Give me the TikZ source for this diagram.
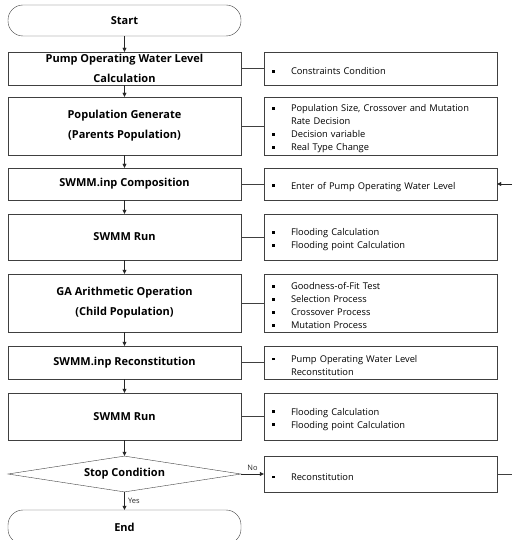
\documentclass[tikz,border=0pt]{standalone}
\usepackage{fontspec}
\setmainfont{Open Sans}
\usetikzlibrary{shapes.geometric,arrows.meta}

\tikzset{
    procbox/.style={draw=black!75, minimum width=233pt, inner sep=0pt,
        align=center, font=\fontsize{11}{20}\selectfont\bfseries},
    notebox/.style={draw=black!75, minimum width=233pt, inner xsep=8pt, inner ysep=0pt,
        text width=217pt, align=left, font=\fontsize{9.3}{13}\selectfont},
    termbox/.style={procbox, rounded corners=15pt},
    flow/.style={-{Triangle[length=4pt,width=4pt]}, black!85},
    link/.style={black!75}
}
\newcommand\nitem[1]{\par\noindent\makebox[19pt][l]{\rule[2.3pt]{2.6pt}{2.6pt}}#1}
\newcommand\ncont[1]{\par\noindent\hspace*{19pt}#1}

\begin{document}
\begin{tikzpicture}[x=1pt,y=-1pt]
    \useasboundingbox (0,0) rectangle (512,540);

    % Main flow
    \node [termbox, minimum height=31pt] (start) at (124.5,20.5) {Start};
    \node [procbox, minimum height=33pt] (wlcalc) at (124.5,68.5)
        {Pump Operating Water Level\\Calculation};
    \node [procbox, minimum height=58pt] (popgen) at (124.5,126)
        {Population Generate\\(Parents Population)};
    \node [procbox, minimum height=32pt] (inpcomp) at (124.5,184)
        {SWMM.inp Composition};
    \node [procbox, minimum height=46pt] (runA) at (124.5,237)
        {SWMM Run};
    \node [procbox, minimum height=58pt] (gaop) at (124.5,303)
        {GA Arithmetic Operation\\(Child Population)};
    \node [procbox, minimum height=33pt] (inprecon) at (124.5,362.5)
        {SWMM.inp Reconstitution};
    \node [procbox, minimum height=47pt] (runB) at (124.5,416.5)
        {SWMM Run};
    \node [diamond, draw=black!75, inner sep=0pt, aspect=6.5,
        minimum width=233pt, minimum height=36pt,
        font=\fontsize{11}{12}\selectfont\bfseries] (stop) at (124.5,474) {Stop Condition};
    \node [termbox, minimum height=34pt] (finish) at (124.5,527) {End};

    % Notes
    \node [notebox, minimum height=33pt] (nconst) at (380.5,68.5)
        {\nitem{Constraints Condition}};
    \node [notebox, minimum height=58pt] (npop) at (380.5,126)
        {\nitem{Population Size, Crossover and Mutation}
         \ncont{Rate Decision}
         \nitem{Decision variable}
         \nitem{Real Type Change}};
    \node [notebox, minimum height=32pt] (nenter) at (380.5,184)
        {\nitem{Enter of Pump Operating Water Level}};
    \node [notebox, minimum height=46pt] (nrunA) at (380.5,237)
        {\nitem{Flooding Calculation}
         \nitem{Flooding point Calculation}};
    \node [notebox, minimum height=58pt] (nga) at (380.5,303)
        {\nitem{Goodness-of-Fit Test}
         \nitem{Selection Process}
         \nitem{Crossover Process}
         \nitem{Mutation Process}};
    \node [notebox, minimum height=33pt] (nrecon) at (380.5,362.5)
        {\nitem{Pump Operating Water Level}
         \ncont{Reconstitution}};
    \node [notebox, minimum height=47pt] (nrunB) at (380.5,416.5)
        {\nitem{Flooding Calculation}
         \nitem{Flooding point Calculation}};
    \node [notebox, minimum height=36pt] (nstop) at (380.5,474)
        {\nitem{Reconstitution}};

    % Flow arrows
    \draw [flow] (start) -- (wlcalc);
    \draw [flow] (wlcalc) -- (popgen);
    \draw [flow] (popgen) -- (inpcomp);
    \draw [flow] (inpcomp) -- (runA);
    \draw [flow] (runA) -- (gaop);
    \draw [flow] (gaop) -- (inprecon);
    \draw [flow] (inprecon) -- (runB);
    \draw [flow] (runB) -- (stop);
    \draw [flow] (stop) -- node [right, font=\fontsize{7.5}{8}\selectfont] {Yes} (finish);
    \draw [flow] (stop) -- node [above, font=\fontsize{7.5}{8}\selectfont] {No} (nstop);

    % Links to notes
    \draw [link] (wlcalc) -- (nconst);
    \draw [link] (popgen) -- (npop);
    \draw [link] (inpcomp) -- (nenter);
    \draw [link] (runA) -- (nrunA);
    \draw [link] (gaop) -- (nga);
    \draw [link] (inprecon) -- (nrecon);
    \draw [link] (runB) -- (nrunB);

    % Loop back (cut at the edge)
    \coordinate (loopout) at (512,474);
    \coordinate (loopin) at (512,184);
    \draw [link] (nstop) -- (loopout);
    \draw [flow] (loopin) -- (nenter);
\end{tikzpicture}
\end{document}
